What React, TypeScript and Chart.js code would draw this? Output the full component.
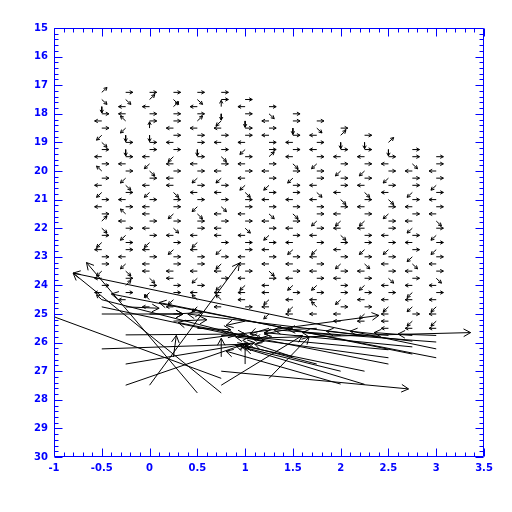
import React, { useEffect, useRef } from 'react';
import { Chart, registerables } from 'chart.js';
Chart.register(...registerables);

// Axis ticks
const xTicks = [-1, -0.5, 0, 0.5, 1, 1.5, 2, 2.5, 3, 3.5];
const yTicks = [15, 16, 17, 18, 19, 20, 21, 22, 23, 24, 25, 26, 27, 28, 29, 30];
const minorPerMajor = 5;

// Small-vector grid: column x, first row y, and per-row direction codes (numpad style)
const gridCols = [-0.5, -0.25, 0, 0.25, 0.5, 0.75, 1, 1.25, 1.5, 1.75, 2, 2.25, 2.5, 2.75, 3];
const gridTops = [17.25, 17.25, 17.25, 17.25, 17.25, 17.25, 17.5, 17.75, 18, 18.25, 18.5, 18.75, 19, 19.25, 19.5];
const gridDirs = [
  '932646136467641646936146614647',
  '634471262646136467461664136964',
  '6946682664136416446461464436174',
  '6396646461464436616346166446614',
  '6346946626461646136641466416471',
  '6682146463641646346446161461474',
  '646266416464136646346644641446',
  '634646696461646346164643644141',
  '66264643616646364641646416414',
  '6346461664346616461464616474',
  '6926461664364143646164661644',
  '626461643646146616346164614',
  '926461643616646164634641444',
  '66346616464164613464141614',
  '6646164643616164634641414',
];
const rowStep = 0.25;
const dirU: Record<string, number> = { '4': -0.075, '6': 0.075, '8': 0, '2': 0, '7': -0.055, '9': 0.055, '1': -0.055, '3': 0.055 };
const dirV: Record<string, number> = { '4': 0, '6': 0, '8': -0.22, '2': 0.22, '7': -0.17, '9': -0.17, '1': 0.17, '3': 0.17 };

// Large vectors (tail -> head)
const longX0 = [-0.5, -0.5, -0.5, -0.5, -0.25, -0.25, -0.25, 0.0, 0.5, 0.75, 0.75, 0.75, 0.75, 1.25, 0.25, 0.75, 1.0,
  3.0, 3.0, 3.0, 2.75, 2.5, 2.5, 2.25, 2.0, 2.0, 2.25, 2.75, 2.5, 1.75, 1.5, 2.75, 1.0, 0.5,
  0.0, 0.25, 0.5, 0.75, 1.25, 1.5, 1.25, 2.0, 2.25, 2.5, 1.75, -0.25, 1.0, 0.25, 3.0, 2.75];
const longY0 = [24.75, 25.0, 24.5, 26.22, 25.73, 26.75, 27.49, 27.49, 27.76, 27.76, 27.25, 27.0, 27.49, 27.25, 26.5, 26.5, 26.75,
  26.53, 26.22, 25.98, 26.4, 26.75, 26.53, 27.0, 27.0, 27.45, 27.46, 26.15, 26.25, 26.75, 26.5, 25.95, 25.85, 25.9,
  25.0, 25.25, 25.5, 25.75, 25.5, 25.5, 25.75, 25.75, 25.75, 25.75, 25.5, 24.75, 25.25, 25.0, 25.75, 25.75];
const longX1 = [0.9, 0.35, 1.2, 1.05, 1.0, 1.1, 1.0, 0.94, -0.66, -0.8, -1.2, 2.71, 1.6, 1.67, 0.28, 0.75, 1.0,
  -0.4, -0.8, 1.3, 0.1, 0.3, 0.9, 0.95, 0.9, 0.8, 1.0, 1.2, 1.05, 1.0, 1.1, 0.4, 3.36, 2.4,
  0.35, 0.6, 0.85, 1.05, 1.05, 1.2, 1.1, 1.6, 1.85, 2.1, 1.45, 0.1, 0.8, 0.55, 2.6, 2.35];
const longY1 = [25.75, 25.0, 25.95, 26.05, 25.7, 26.0, 26.05, 23.22, 23.2, 23.57, 24.85, 27.62, 25.75, 25.8, 25.75, 25.85, 26.0,
  24.3, 23.57, 25.55, 24.6, 25.3, 25.8, 26.1, 26.1, 26.3, 26.2, 25.65, 25.8, 26.1, 26.05, 25.0, 25.65, 25.05,
  25.0, 25.2, 25.55, 25.8, 25.7, 25.7, 25.9, 25.65, 25.6, 25.6, 25.55, 24.8, 25.4, 24.95, 25.7, 25.65];

type Arrow = { x0: number; y0: number; x1: number; y1: number };

function buildArrows(): Arrow[] {
  const arrows: Arrow[] = [];
  gridCols.forEach((cx, ci) => {
    const codes = gridDirs[ci];
    for (let r = 0; r < codes.length; r++) {
      const c = codes[r];
      const y0 = gridTops[ci] + r * rowStep;
      arrows.push({ x0: cx, y0, x1: cx + dirU[c], y1: y0 + dirV[c] });
    }
  });
  longX0.forEach((x0, i) => arrows.push({ x0, y0: longY0[i], x1: longX1[i], y1: longY1[i] }));
  return arrows;
}

const BLUE = '#0000ff';

export default function App() {
  const ref = useRef<HTMLCanvasElement>(null);
  useEffect(() => {
    if (!ref.current) return;
    const arrows = buildArrows();
    const shaft: any[] = [];
    arrows.forEach((a) => {
      shaft.push({ x: a.x0, y: a.y0 });
      shaft.push({ x: a.x1, y: a.y1 });
      shaft.push({ x: a.x1, y: null });
    });

    const headPlugin = {
      id: 'arrowHeads',
      afterDatasetsDraw(chart: any) {
        const { ctx, chartArea, scales } = chart;
        const sx = scales.x, sy = scales.y;
        ctx.save();
        ctx.beginPath();
        ctx.rect(chartArea.left, chartArea.top, chartArea.right - chartArea.left, chartArea.bottom - chartArea.top);
        ctx.clip();
        ctx.strokeStyle = '#000';
        ctx.lineWidth = 1;
        ctx.beginPath();
        arrows.forEach((a) => {
          const px0 = sx.getPixelForValue(a.x0), py0 = sy.getPixelForValue(a.y0);
          const px1 = sx.getPixelForValue(a.x1), py1 = sy.getPixelForValue(a.y1);
          const dx = px1 - px0, dy = py1 - py0;
          const len = Math.hypot(dx, dy);
          if (len < 0.5) return;
          const h = Math.min(8, Math.max(3.5, len * 0.5));
          const ang = Math.atan2(dy, dx);
          const spread = 0.5;
          ctx.moveTo(px1, py1);
          ctx.lineTo(px1 - h * Math.cos(ang - spread), py1 - h * Math.sin(ang - spread));
          ctx.moveTo(px1, py1);
          ctx.lineTo(px1 - h * Math.cos(ang + spread), py1 - h * Math.sin(ang + spread));
        });
        ctx.stroke();
        ctx.restore();
      },
    };

    const framePlugin = {
      id: 'frameTicks',
      afterDraw(chart: any) {
        const { ctx, chartArea, scales } = chart;
        const sx = scales.x, sy = scales.y;
        const { left, right, top, bottom } = chartArea;
        ctx.save();
        ctx.strokeStyle = BLUE;
        ctx.lineWidth = 1;
        ctx.beginPath();
        const L = Math.round(left) + 0.5, R = Math.round(right) - 0.5;
        const T = Math.round(top) + 0.5, B = Math.round(bottom) - 0.5;
        ctx.rect(L, T, R - L, B - T);
        const major = 8, minor = 4;
        for (let i = 0; i < xTicks.length; i++) {
          const v = xTicks[i];
          const p = Math.round(sx.getPixelForValue(v)) + 0.5;
          ctx.moveTo(p, B); ctx.lineTo(p, B - major);
          ctx.moveTo(p, T); ctx.lineTo(p, T + major);
          if (i < xTicks.length - 1) {
            const step = (xTicks[i + 1] - v) / minorPerMajor;
            for (let k = 1; k < minorPerMajor; k++) {
              const q = Math.round(sx.getPixelForValue(v + k * step)) + 0.5;
              ctx.moveTo(q, B); ctx.lineTo(q, B - minor);
              ctx.moveTo(q, T); ctx.lineTo(q, T + minor);
            }
          }
        }
        for (let i = 0; i < yTicks.length; i++) {
          const v = yTicks[i];
          const p = Math.round(sy.getPixelForValue(v)) + 0.5;
          ctx.moveTo(L, p); ctx.lineTo(L + major, p);
          ctx.moveTo(R, p); ctx.lineTo(R - major, p);
          if (i < yTicks.length - 1) {
            const step = (yTicks[i + 1] - v) / minorPerMajor;
            for (let k = 1; k < minorPerMajor; k++) {
              const q = Math.round(sy.getPixelForValue(v + k * step)) + 0.5;
              ctx.moveTo(L, q); ctx.lineTo(L + minor, q);
              ctx.moveTo(R, q); ctx.lineTo(R - minor, q);
            }
          }
        }
        ctx.stroke();
        ctx.restore();
      },
    };

    const tickFont = { family: 'DejaVu Sans', size: 10, weight: 'bold' as const };
    const chart = new Chart(ref.current, {
      type: 'line',
      data: {
        datasets: [
          {
            data: shaft,
            borderColor: '#000',
            borderWidth: 1,
            pointRadius: 0,
            spanGaps: false,
            fill: false,
          } as any,
        ],
      },
      options: {
        animation: false,
        responsive: false,
        devicePixelRatio: 1,
        layout: { padding: { top: 28, right: 28, left: 0, bottom: 0 } },
        plugins: { legend: { display: false }, tooltip: { enabled: false } },
        scales: {
          x: {
            type: 'linear',
            min: -1,
            max: 3.5,
            afterBuildTicks: (s: any) => { s.ticks = xTicks.map((v) => ({ value: v })); },
            afterFit: (s: any) => { s.height = 55; },
            grid: { display: false, drawTicks: false },
            border: { display: false },
            ticks: { color: BLUE, font: tickFont, padding: 5, maxRotation: 0, autoSkip: false, callback: (v: any) => String(v) },
          },
          y: {
            type: 'linear',
            min: 15,
            max: 30,
            reverse: true,
            afterBuildTicks: (s: any) => { s.ticks = yTicks.map((v) => ({ value: v })); },
            afterFit: (s: any) => { s.width = 54; },
            grid: { display: false, drawTicks: false },
            border: { display: false },
            ticks: { color: BLUE, font: tickFont, padding: 6, autoSkip: false, callback: (v: any) => String(v) },
          },
        },
      } as any,
      plugins: [headPlugin, framePlugin],
    });
    return () => chart.destroy();
  }, []);

  return (
    <div style={{ position: 'fixed', left: 0, top: 0, width: 512, height: 512, background: '#fff' }}>
      <canvas ref={ref} width={512} height={512} style={{ display: 'block', width: 512, height: 512 }} />
    </div>
  );
}
